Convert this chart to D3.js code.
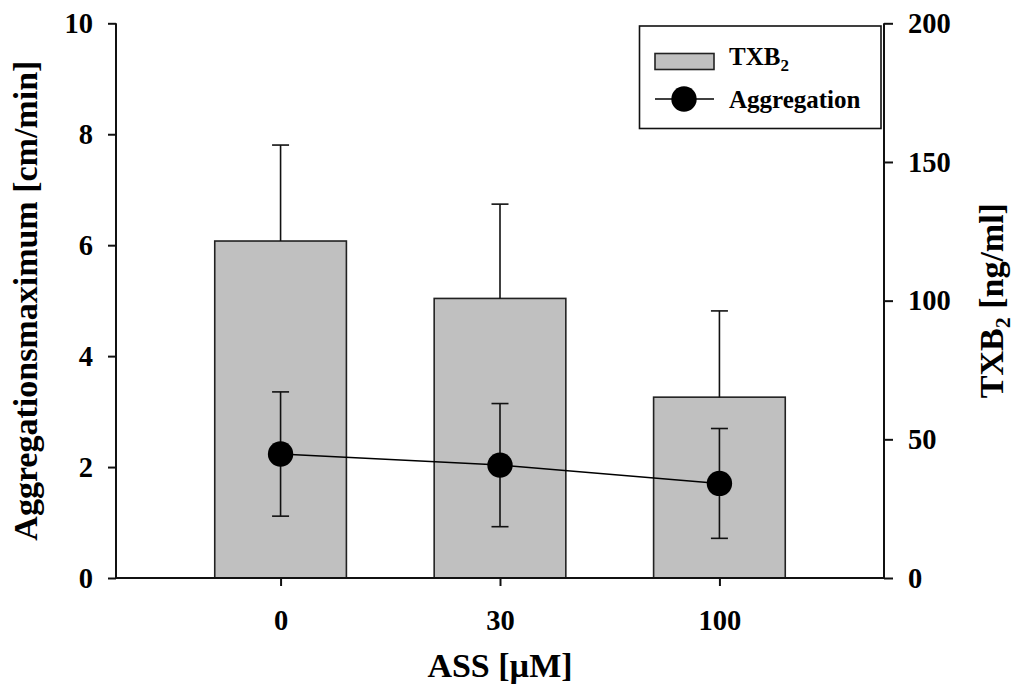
<!DOCTYPE html>
<html>
<head>
<meta charset="utf-8">
<script src="https://cdn.jsdelivr.net/npm/d3@7"></script>
<style>
  html, body { margin: 0; padding: 0; background: #fff; }
  svg text { font-family: "Liberation Serif", Tinos, "Times New Roman", Times, "DejaVu Serif", serif !important; font-weight: bold; fill: #000; }
</style>
</head>
<body>
<svg id="chart" width="1019" height="695"></svg>
<script>
// ---- data ----
const categories = ["0", "30", "100"];
const txb2Mean = [121.5, 100.8, 65.2];      // ng/ml, right axis
const txb2Sd = [34.6, 34.0, 31.1];
const aggMean = [2.235, 2.035, 1.705];      // cm/min, left axis
const aggSd = [1.12, 1.11, 0.99];
const leftTicks = [0, 2, 4, 6, 8, 10];
const rightTicks = [0, 50, 100, 150, 200];

// ---- layout ----
const FONT = '"Liberation Serif", Tinos, "Times New Roman", Times, "DejaVu Serif", serif';
const svg = d3.select("#chart");
const plot = { left: 116, right: 884, top: 23.3, bottom: 578 };

const x = d3.scaleLinear().domain([-0.75, 2.75]).range([plot.left, plot.right]);
const yL = d3.scaleLinear().domain([0, 10]).range([plot.bottom, plot.top]);
const yR = d3.scaleLinear().domain([0, 200]).range([plot.bottom, plot.top]);
const barW = x(0.3) - x(-0.3);
const capW = 17;

// ---- bars ----
const g = svg.append("g");
g.selectAll("rect.bar").data(categories).join("rect")
  .attr("class", "bar")
  .attr("x", (d, i) => x(i) - barW / 2)
  .attr("y", (d, i) => yR(txb2Mean[i]))
  .attr("width", barW)
  .attr("height", (d, i) => yR(0) - yR(txb2Mean[i]))
  .attr("fill", "#c0c0c0")
  .attr("stroke", "#222")
  .attr("stroke-width", 1.6);

categories.forEach((c, i) => {
  const top = yR(txb2Mean[i] + txb2Sd[i]);
  g.append("line").attr("x1", x(i)).attr("x2", x(i))
    .attr("y1", yR(txb2Mean[i])).attr("y2", top)
    .attr("stroke", "#111").attr("stroke-width", 1.6);
  g.append("line").attr("x1", x(i) - capW / 2).attr("x2", x(i) + capW / 2)
    .attr("y1", top).attr("y2", top)
    .attr("stroke", "#111").attr("stroke-width", 1.6);
});

// ---- aggregation line + error bars + points ----
const line = d3.line().x((d, i) => x(i)).y(d => yL(d));
g.append("path").datum(aggMean).attr("d", line)
  .attr("fill", "none").attr("stroke", "#000").attr("stroke-width", 1.5);

categories.forEach((c, i) => {
  const lo = yL(aggMean[i] - aggSd[i]);
  const hi = yL(aggMean[i] + aggSd[i]);
  g.append("line").attr("x1", x(i)).attr("x2", x(i)).attr("y1", lo).attr("y2", hi)
    .attr("stroke", "#111").attr("stroke-width", 1.6);
  [lo, hi].forEach(yy => {
    g.append("line").attr("x1", x(i) - capW / 2).attr("x2", x(i) + capW / 2)
      .attr("y1", yy).attr("y2", yy).attr("stroke", "#111").attr("stroke-width", 1.6);
  });
});

g.selectAll("circle.pt").data(aggMean).join("circle")
  .attr("class", "pt")
  .attr("cx", (d, i) => x(i))
  .attr("cy", d => yL(d))
  .attr("r", 12.7)
  .attr("fill", "#000");

// ---- axes ----
const tickFont = 28.5;
const axL = svg.append("g").attr("transform", `translate(${plot.left},0)`)
  .call(d3.axisLeft(yL).tickValues(leftTicks).tickSize(8).tickPadding(15).tickSizeOuter(0));
const axR = svg.append("g").attr("transform", `translate(${plot.right},0)`)
  .call(d3.axisRight(yR).tickValues(rightTicks).tickSize(9).tickPadding(15).tickSizeOuter(0));
const axB = svg.append("g").attr("transform", `translate(0,${plot.bottom})`)
  .call(d3.axisBottom(x).tickValues([0, 1, 2]).tickFormat(i => categories[i])
    .tickSize(8).tickPadding(24).tickSizeOuter(0));

[axL, axR, axB].forEach(a => {
  a.attr("font-family", FONT).attr("font-size", tickFont);
  a.select(".domain").attr("stroke", "#111").attr("stroke-width", 2);
  a.selectAll(".tick line").attr("stroke", "#111").attr("stroke-width", 2);
  a.selectAll(".tick text")
    .style("font-size", tickFont + "px")
    .attr("fill", "#000");
});
axB.select(".domain").attr("d", `M${plot.left},0H${plot.right}`);
axL.select(".domain").attr("d", `M0,${plot.top}V${plot.bottom}`);
axR.select(".domain").attr("d", `M0,${plot.top}V${plot.bottom}`);

// ---- axis titles ----
svg.append("text")
  .attr("transform", `translate(37,${(plot.top + plot.bottom) / 2}) rotate(-90)`)
  .attr("text-anchor", "middle")
  .style("font-size", "34px")
  .text("Aggregationsmaximum [cm/min]");

const rt = svg.append("text")
  .attr("transform", `translate(1003,${(plot.top + plot.bottom) / 2}) rotate(-90)`)
  .attr("text-anchor", "middle")
  .style("font-size", "34px");
rt.append("tspan").text("TXB");
rt.append("tspan").attr("dy", 7).style("font-size", "22px").text("2");
rt.append("tspan").attr("dy", -7).text(" [ng/ml]");

svg.append("text")
  .attr("x", (plot.left + plot.right) / 2)
  .attr("y", 677)
  .attr("text-anchor", "middle")
  .style("font-size", "34px")
  .text("ASS [µM]");

// ---- legend ----
const lg = svg.append("g");
lg.append("rect").attr("x", 639.5).attr("y", 26).attr("width", 241.5).attr("height", 102.5)
  .attr("fill", "#fff").attr("stroke", "#111").attr("stroke-width", 1.6);
lg.append("rect").attr("x", 655).attr("y", 53.5).attr("width", 59).attr("height", 16)
  .attr("fill", "#c0c0c0").attr("stroke", "#222").attr("stroke-width", 1.6);
const lt = lg.append("text").attr("x", 729).attr("y", 65).style("font-size", "25px");
lt.append("tspan").text("TXB");
lt.append("tspan").attr("dy", 6).style("font-size", "17px").text("2");
lg.append("line").attr("x1", 655).attr("x2", 714).attr("y1", 99).attr("y2", 99)
  .attr("stroke", "#000").attr("stroke-width", 1.5);
lg.append("circle").attr("cx", 684).attr("cy", 99).attr("r", 12.7).attr("fill", "#000");
lg.append("text").attr("x", 729).attr("y", 108).style("font-size", "25px").text("Aggregation");
</script>
</body>
</html>
